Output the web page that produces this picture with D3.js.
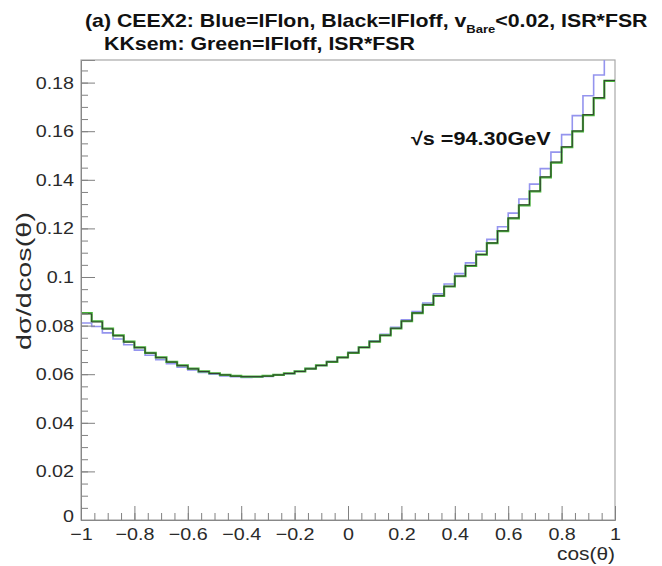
<!DOCTYPE html>
<html>
<head>
<meta charset="utf-8">
<script src="https://cdn.jsdelivr.net/npm/d3@7"></script>
<style>
  body { margin: 0; background: #fff; }
  text { font-family: "Liberation Sans", Arial, sans-serif; }
</style>
</head>
<body>
<script>
let svgWidth = 662
let svgHeight = 566

let frame = { left: 81, right: 615, top: 60, bottom: 520 }
let stretch = 1.16   // the source picture is a little wider than tall

// histogram binning: 50 bins on cos(theta) in [-1, 1]
let xMin = -1, xMax = 1, nBins = 50

// CEEX2, IFI on (blue)
let ceexIfiOn = [
  0.0811, 0.0796, 0.0770, 0.0745, 0.0721, 0.0699, 0.0678, 0.0660, 0.0643, 0.0629,
  0.0617, 0.0607, 0.0600, 0.0593, 0.0590, 0.0587, 0.0588, 0.0591, 0.0596, 0.0602,
  0.0612, 0.0623, 0.0636, 0.0652, 0.0670, 0.0690, 0.0712, 0.0737, 0.0764, 0.0793,
  0.0824, 0.0858, 0.0893, 0.0931, 0.0971, 0.1014, 0.1058, 0.1106, 0.1155, 0.1207,
  0.1263, 0.1321, 0.1382, 0.1446, 0.1514, 0.1586, 0.1664, 0.1746, 0.1831, 0.1922
]
// CEEX2, IFI off (black)
let ceexIfiOff = [
  0.0848, 0.0815, 0.0786, 0.0758, 0.0732, 0.0709, 0.0687, 0.0668, 0.0650, 0.0635,
  0.0622, 0.0611, 0.0603, 0.0597, 0.0592, 0.0590, 0.0590, 0.0592, 0.0597, 0.0603,
  0.0611, 0.0622, 0.0636, 0.0651, 0.0668, 0.0688, 0.0710, 0.0734, 0.0760, 0.0789,
  0.0819, 0.0852, 0.0886, 0.0923, 0.0962, 0.1004, 0.1047, 0.1093, 0.1140, 0.1190,
  0.1243, 0.1297, 0.1354, 0.1412, 0.1473, 0.1536, 0.1601, 0.1668, 0.1738, 0.1809
]
// KKsem, IFI off (green)
let kksemIfiOff = [
  0.0851, 0.0818, 0.0788, 0.0760, 0.0734, 0.0710, 0.0688, 0.0669, 0.0651, 0.0636,
  0.0623, 0.0612, 0.0604, 0.0597, 0.0593, 0.0590, 0.0590, 0.0593, 0.0597, 0.0603,
  0.0612, 0.0623, 0.0636, 0.0651, 0.0669, 0.0688, 0.0710, 0.0734, 0.0760, 0.0788,
  0.0818, 0.0851, 0.0885, 0.0922, 0.0961, 0.1003, 0.1046, 0.1092, 0.1139, 0.1189,
  0.1241, 0.1295, 0.1352, 0.1410, 0.1471, 0.1534, 0.1599, 0.1666, 0.1736, 0.1807
]

let xMajorTicks = [-1, -0.8, -0.6, -0.4, -0.2, 0, 0.2, 0.4, 0.6, 0.8, 1]
let xTickLabels = ["\u22121", "\u22120.8", "\u22120.6", "\u22120.4", "\u22120.2", "0", "0.2", "0.4", "0.6", "0.8", "1"]
let yMajorTicks = [0, 0.02, 0.04, 0.06, 0.08, 0.1, 0.12, 0.14, 0.16, 0.18]
let yTickLabels = ["0", "0.02", "0.04", "0.06", "0.08", "0.1", "0.12", "0.14", "0.16", "0.18"]
let yMax = 0.1893

let series = [
  { name: "blue", values: ceexIfiOn, color: "#9494ee", width: 1.6 },
  { name: "green", values: kksemIfiOff, color: "#45b337", width: 2.2 },
  { name: "black", values: ceexIfiOff, color: "#303030", width: 0.9 }
]

let xScale = d3.scaleLinear().domain([xMin, xMax]).range([frame.left, frame.right])
let yScale = d3.scaleLinear().domain([0, yMax]).range([frame.bottom, frame.top])

let svg = d3.select("body")
  .append("svg")
  .attr("width", svgWidth)
  .attr("height", svgHeight)

svg.append("rect")
  .attr("width", svgWidth)
  .attr("height", svgHeight)
  .attr("fill", "#fff")

svg.append("clipPath")
  .attr("id", "frameClip")
  .append("rect")
  .attr("x", frame.left)
  .attr("y", frame.top)
  .attr("width", frame.right - frame.left)
  .attr("height", frame.bottom - frame.top)

// frame
svg.append("rect")
  .attr("x", frame.left)
  .attr("y", frame.top)
  .attr("width", frame.right - frame.left)
  .attr("height", frame.bottom - frame.top)
  .attr("fill", "none")
  .attr("stroke", "#a8a8a8")
  .attr("stroke-width", 1.2)

// histograms as step lines
let binWidth = (xMax - xMin) / nBins
let line = d3.line()
  .x(d => xScale(d[0]))
  .y(d => yScale(d[1]))
  .curve(d3.curveStepAfter)

series.forEach(function (s) {
  let pts = s.values.map((v, i) => [xMin + i * binWidth, v])
  pts.push([xMax, s.values[s.values.length - 1]])
  svg.append("path")
    .datum(pts)
    .attr("clip-path", "url(#frameClip)")
    .attr("fill", "none")
    .attr("stroke", s.color)
    .attr("stroke-width", s.width)
    .attr("d", line)
})

// y axis: ticks pointing into the frame
let yMinor = d3.range(0, yMax, 0.005)
svg.append("g")
  .attr("transform", "translate(" + frame.left + ",0)")
  .call(d3.axisLeft(yScale).tickValues(yMinor).tickSize(-7).tickFormat(""))
  .call(g => g.select(".domain").remove())
  .selectAll("line").attr("stroke", "#808080")

let yAxis = svg.append("g")
  .attr("transform", "translate(" + frame.left + ",0)")
  .call(d3.axisLeft(yScale).tickValues(yMajorTicks).tickSize(-14).tickPadding(6)
    .tickFormat((d, i) => yTickLabels[i]))
yAxis.select(".domain").attr("stroke", "#888")
yAxis.selectAll("line").attr("stroke", "#808080")
yAxis.selectAll("text")
  .attr("font-size", 17)
  .attr("fill", "#2a2a2a")
  .attr("transform", "scale(" + stretch + ",1)")
  .style("font-family", "Liberation Sans, Arial, sans-serif")
// the zero label sits a touch higher so it clears the x labels
yAxis.selectAll("text").filter(d => d === 0).attr("dy", "0.1em")

// x axis
let xMinor = d3.range(-1, 1.0001, 0.05)
svg.append("g")
  .attr("transform", "translate(0," + frame.bottom + ")")
  .call(d3.axisBottom(xScale).tickValues(xMinor).tickSize(-7).tickFormat(""))
  .call(g => g.select(".domain").remove())
  .selectAll("line").attr("stroke", "#808080")

let xAxis = svg.append("g")
  .attr("transform", "translate(0," + frame.bottom + ")")
  .call(d3.axisBottom(xScale).tickValues(xMajorTicks).tickSize(-14).tickPadding(8)
    .tickFormat((d, i) => xTickLabels[i]))
xAxis.select(".domain").attr("stroke", "#888")
xAxis.selectAll("line").attr("stroke", "#808080")
xAxis.selectAll("text")
  .attr("font-size", 17)
  .attr("fill", "#2a2a2a")
  .attr("transform", "scale(" + stretch + ",1)")
  .style("font-family", "Liberation Sans, Arial, sans-serif")

// axis titles
svg.append("g")
  .attr("transform", "translate(" + frame.right + ",560) scale(" + stretch + ",1)")
  .append("text")
  .attr("text-anchor", "end")
  .attr("font-size", 18)
  .attr("fill", "#2a2a2a")
  .text("cos(\u03b8)")

svg.append("text")
  .attr("transform", "translate(31,281) rotate(-90)")
  .attr("text-anchor", "middle")
  .attr("font-size", 21)
  .attr("textLength", 138)
  .attr("lengthAdjust", "spacingAndGlyphs")
  .attr("fill", "#2a2a2a")
  .text("d\u03c3/dcos(\u03b8)")

// plot title
let title1 = svg.append("g")
  .attr("transform", "translate(85,27) scale(1.185,1)")
  .append("text")
  .attr("font-size", 18)
  .attr("font-weight", "bold")
  .attr("fill", "#111")
title1.append("tspan").text("(a) CEEX2: Blue=IFIon, Black=IFIoff, v")
title1.append("tspan").attr("dy", 6).attr("font-size", 11).text("Bare")
title1.append("tspan").attr("dy", -6).text("<0.02, ISR*FSR")

svg.append("g")
  .attr("transform", "translate(104,50) scale(1.185,1)")
  .append("text")
  .attr("font-size", 18)
  .attr("font-weight", "bold")
  .attr("fill", "#111")
  .text("KKsem: Green=IFIoff, ISR*FSR")

// energy label
svg.append("g")
  .attr("transform", "translate(411,145) scale(1.2,1)")
  .append("text")
  .attr("font-size", 18)
  .attr("font-weight", "bold")
  .attr("fill", "#111")
  .text("\u221as =94.30GeV")
</script>
</body>
</html>
